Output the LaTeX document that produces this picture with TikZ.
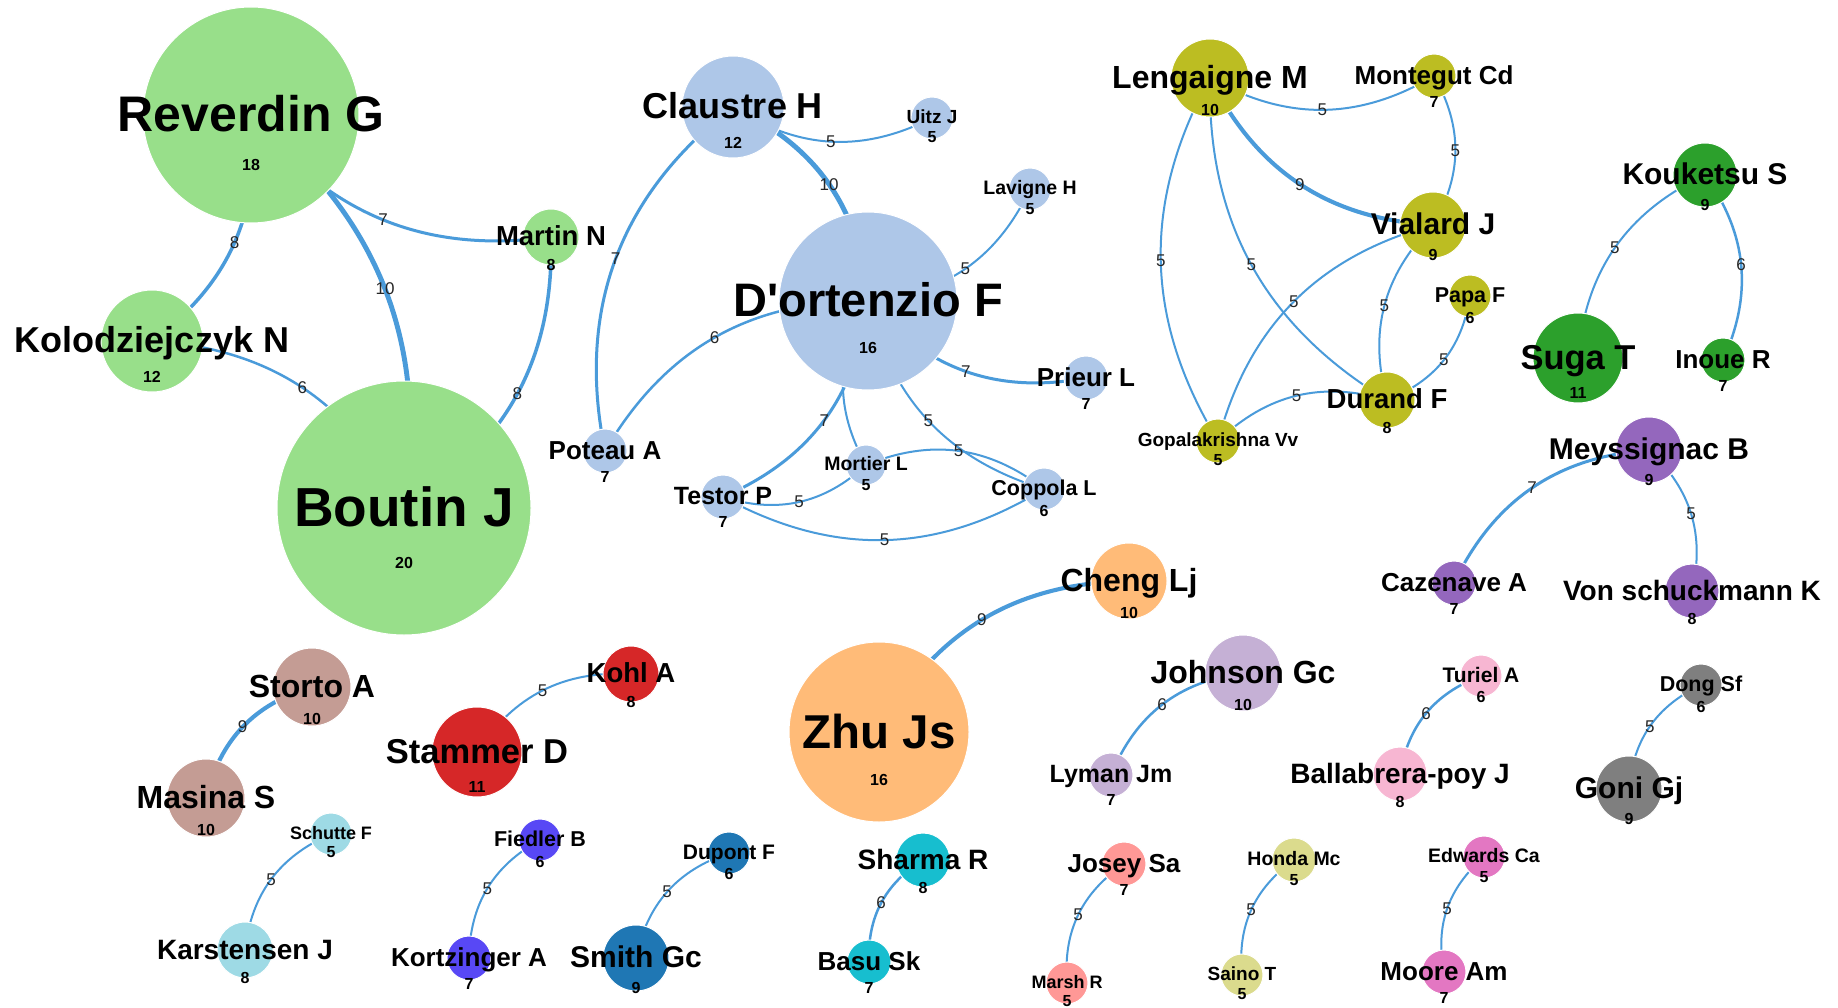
\documentclass[tikz,border=0pt]{standalone}
\usepackage{fontspec}
\newfontfamily\labfont{Liberation Sans}
\pgfdeclarelayer{bg}
\pgfdeclarelayer{edges}
\pgfdeclarelayer{front}
\pgfsetlayers{bg,edges,main,front}

% cluster colours
\definecolor{cA}{HTML}{98DF8A}
\definecolor{cB}{HTML}{AEC7E8}
\definecolor{cC}{HTML}{BCBD22}
\definecolor{cD}{HTML}{2CA02C}
\definecolor{cE}{HTML}{9467BD}
\definecolor{cF}{HTML}{FFBB78}
\definecolor{cG}{HTML}{C5B0D5}
\definecolor{cH}{HTML}{F7B6D2}
\definecolor{cI}{HTML}{7F7F7F}
\definecolor{cJ}{HTML}{C49C94}
\definecolor{cK}{HTML}{D62728}
\definecolor{cL}{HTML}{9EDAE5}
\definecolor{cM}{RGB}{88,72,245}
\definecolor{cN}{HTML}{1F77B4}
\definecolor{cO}{HTML}{17BECF}
\definecolor{cP}{HTML}{FF9896}
\definecolor{cQ}{HTML}{DBDB8D}
\definecolor{cR}{HTML}{E377C2}
\definecolor{linkblue}{RGB}{74,155,218}

\tikzset{
  pdot/.style={circle, inner sep=0pt, draw=white, line width=1pt},
  pname/.style={anchor=base, inner sep=0pt, text=black},
  pnum/.style={anchor=base, inner sep=0pt, text=black,
    font=\labfont\bfseries\fontsize{16}{16}\selectfont},
  edge/.style={draw=linkblue},
  elab/.style={midway, inner sep=0pt, text=black!85,
    font=\labfont\fontsize{17}{17}\selectfont},
  w5/.style={line width=2.0pt},
  w6/.style={line width=2.5pt},
  w7/.style={line width=3.0pt},
  w8/.style={line width=3.5pt},
  w9/.style={line width=4.1pt},
  w10/.style={line width=4.9pt},
}

% \pers{id}{x}{y}{radius}{colour}{font size}{name}{count}
\newcommand\pers[8]{%
  \node[pdot, fill=#5, minimum size={2*#4}] (#1) at (#2,-#3) {};
  \begin{pgfonlayer}{front}
    \node[pname, font=\labfont\bfseries\fontsize{#6}{#6}\selectfont]
      (#1-n) at ([yshift={(1-0.358*#6)*1pt}]#1.center) {#7};
    \node[pnum] (#1-w) at ([yshift={(-#6-5.7)*1pt}]#1.center) {#8};
  \end{pgfonlayer}}

\begin{document}
\begin{tikzpicture}[x=1pt,y=1pt]
\begin{pgfonlayer}{bg}
\fill[white] (0,0) rectangle (1838,-1008);
\end{pgfonlayer}
\useasboundingbox (0,0) rectangle (1838,-1008);

% --- people ---
\pers{reverdin}{251}{115}{108}{cA}{50}{Reverdin G}{18}
\pers{kolod}{152}{341}{51}{cA}{36}{Kolodziejczyk N}{12}
\pers{martin}{551}{237}{28}{cA}{27.5}{Martin N}{8}
\pers{boutin}{404}{508}{127}{cA}{55}{Boutin J}{20}

\pers{claustre}{733}{107}{51}{cB}{36}{Claustre H}{12}
\pers{uitz}{932}{118}{21}{cB}{19}{Uitz J}{5}
\pers{lavigne}{1030}{189}{21}{cB}{19.5}{Lavigne H}{5}
\pers{dortenzio}{868}{301}{89}{cB}{47}{D'ortenzio F}{16}
\pers{prieur}{1086}{378}{22}{cB}{26}{Prieur L}{7}
\pers{poteau}{605}{451}{22}{cB}{26}{Poteau A}{7}
\pers{testor}{723}{497}{22}{cB}{25}{Testor P}{7}
\pers{mortier}{866}{465}{20}{cB}{19.5}{Mortier L}{5}
\pers{coppola}{1044}{489}{21}{cB}{21.5}{Coppola L}{6}

\pers{lengaigne}{1210}{78}{39}{cC}{32}{Lengaigne M}{10}
\pers{montegut}{1434}{76}{22}{cC}{26}{Montegut Cd}{7}
\pers{vialard}{1433}{225}{33}{cC}{30}{Vialard J}{9}
\pers{papa}{1470}{296}{21}{cC}{21.5}{Papa F}{6}
\pers{durand}{1387}{400}{28}{cC}{27.5}{Durand F}{8}
\pers{gopal}{1218}{441}{22}{cC}{19}{Gopalakrishna Vv}{5}

\pers{kouketsu}{1705}{175}{32}{cD}{30}{Kouketsu S}{9}
\pers{suga}{1578}{358}{45}{cD}{34.5}{Suga T}{11}
\pers{inoue}{1723}{360}{22}{cD}{26}{Inoue R}{7}

\pers{meyss}{1649}{450}{33}{cE}{30}{Meyssignac B}{9}
\pers{cazenave}{1454}{583}{22}{cE}{26}{Cazenave A}{7}
\pers{vonsch}{1692}{591}{27}{cE}{28}{Von schuckmann K}{8}

\pers{cheng}{1129}{581}{38}{cF}{32}{Cheng Lj}{10}
\pers{zhu}{879}{732}{90}{cF}{47.5}{Zhu Js}{16}

\pers{johnson}{1243}{673}{38}{cG}{32}{Johnson Gc}{10}
\pers{lyman}{1111}{775}{22}{cG}{25}{Lyman Jm}{7}

\pers{turiel}{1481}{676}{21}{cH}{21}{Turiel A}{6}
\pers{ballab}{1400}{774}{27}{cH}{28}{Ballabrera-poy J}{8}

\pers{dong}{1701}{685}{21}{cI}{21.5}{Dong Sf}{6}
\pers{goni}{1629}{789}{33}{cI}{30}{Goni Gj}{9}

\pers{storto}{312}{687}{39}{cJ}{32}{Storto A}{10}
\pers{masina}{206}{798}{39}{cJ}{32}{Masina S}{10}

\pers{kohl}{631}{674}{28}{cK}{27.5}{Kohl A}{8}
\pers{stammer}{477}{752}{45}{cK}{34.5}{Stammer D}{11}

\pers{schutte}{331}{834}{21}{cL}{18}{Schutte F}{5}
\pers{karst}{245}{950}{28}{cL}{28}{Karstensen J}{8}

\pers{fiedler}{540}{840}{21}{cM}{21.5}{Fiedler B}{6}
\pers{kortz}{469}{958}{22}{cM}{26}{Kortzinger A}{7}

\pers{dupont}{729}{853}{21}{cN}{21}{Dupont F}{6}
\pers{smith}{636}{958}{33}{cN}{30}{Smith Gc}{9}

\pers{sharma}{923}{860}{27}{cO}{28}{Sharma R}{8}
\pers{basu}{869}{962}{22}{cO}{26}{Basu Sk}{7}

\pers{josey}{1124}{864}{22}{cP}{26}{Josey Sa}{7}
\pers{marsh}{1067}{983}{21}{cP}{18}{Marsh R}{5}

\pers{honda}{1294}{860}{22}{cQ}{19.5}{Honda Mc}{5}
\pers{saino}{1242}{975}{21}{cQ}{19}{Saino T}{5}

\pers{edwards}{1484}{857}{21}{cR}{19.5}{Edwards Ca}{5}
\pers{moore}{1444}{972}{22}{cR}{26}{Moore Am}{7}

% --- co-authorship links ---
\begin{pgfonlayer}{edges}
\draw[edge,w8]  (reverdin.center) to[bend left=30]  node[elab]{8}  (kolod.center);
\draw[edge,w10] (reverdin.center) to[bend left=30]  node[elab]{10} (boutin.center);
\draw[edge,w7]  (reverdin.center) to[bend right=30] node[elab]{7}  (martin.center);
\draw[edge,w6]  (kolod.center)    to[bend left=30]  node[elab]{6}  (boutin.center);
\draw[edge,w8]  (martin.center)   to[bend left=30]  node[elab]{8}  (boutin.center);

\draw[edge,w5]  (claustre.center) to[bend right=30] node[elab]{5}  (uitz.center);
\draw[edge,w10] (claustre.center) to[bend left=30]  node[elab]{10} (dortenzio.center);
\draw[edge,w7]  (claustre.center) to[bend right=32] node[elab]{7}  (poteau.center);
\draw[edge,w5]  (dortenzio.center) to[bend right=30] node[elab]{5} (lavigne.center);
\draw[edge,w6]  (dortenzio.center) to[bend right=30] node[elab]{6} (poteau.center);
\draw[edge,w7]  (dortenzio.center) to[bend right=30] node[elab]{7} (prieur.center);
\draw[edge,w7]  (dortenzio.center) to[bend left=30]  node[elab]{7} (testor.center);
\draw[edge,w5]  (dortenzio.center) to[bend right=30] (mortier.center);
\draw[edge,w5]  (dortenzio.center) to[bend right=30] node[elab]{5} (coppola.center);
\draw[edge,w5]  (mortier.center)  to[bend left=30]  node[elab]{5}  (coppola.center);
\draw[edge,w5]  (testor.center)   to[bend right=30] node[elab]{5}  (mortier.center);
\draw[edge,w5]  (testor.center)   to[bend right=30] node[elab]{5}  (coppola.center);

\draw[edge,w5]  (lengaigne.center) to[bend right=30] node[elab]{5} (montegut.center);
\draw[edge,w5]  (montegut.center)  to[bend left=30]  node[elab]{5} (vialard.center);
\draw[edge,w9]  (lengaigne.center) to[bend right=30] node[elab]{9} (vialard.center);
\draw[edge,w5]  (lengaigne.center) to[bend right=30] node[elab]{5} (gopal.center);
\draw[edge,w5]  (lengaigne.center) to[bend right=30] node[elab]{5} (durand.center);
\draw[edge,w5]  (vialard.center)   to[bend right=30] node[elab]{5} (gopal.center);
\draw[edge,w5]  (vialard.center)   to[bend right=30] node[elab]{5} (durand.center);
\draw[edge,w5]  (papa.center)      to[bend left=30]  node[elab]{5} (durand.center);
\draw[edge,w5]  (gopal.center)     to[bend left=30]  node[elab]{5} (durand.center);

\draw[edge,w5]  (kouketsu.center) to[bend right=30] node[elab]{5} (suga.center);
\draw[edge,w6]  (kouketsu.center) to[bend left=30]  node[elab]{6} (inoue.center);

\draw[edge,w7]  (meyss.center) to[bend right=30] node[elab]{7} (cazenave.center);
\draw[edge,w5]  (meyss.center) to[bend left=30]  node[elab]{5} (vonsch.center);

\draw[edge,w9]  (zhu.center)     to[bend left=30]  node[elab]{9} (cheng.center);
\draw[edge,w6]  (johnson.center) to[bend right=30] node[elab]{6} (lyman.center);
\draw[edge,w6]  (turiel.center)  to[bend right=30] node[elab]{6} (ballab.center);
\draw[edge,w5]  (dong.center)    to[bend right=30] node[elab]{5} (goni.center);
\draw[edge,w9]  (storto.center)  to[bend right=30] node[elab]{9} (masina.center);
\draw[edge,w5]  (stammer.center) to[bend left=30]  node[elab]{5} (kohl.center);
\draw[edge,w5]  (schutte.center) to[bend right=30] node[elab]{5} (karst.center);
\draw[edge,w5]  (fiedler.center) to[bend right=30] node[elab]{5} (kortz.center);
\draw[edge,w5]  (dupont.center)  to[bend right=30] node[elab]{5} (smith.center);
\draw[edge,w6]  (sharma.center)  to[bend right=30] node[elab]{6} (basu.center);
\draw[edge,w5]  (josey.center)   to[bend right=30] node[elab]{5} (marsh.center);
\draw[edge,w5]  (honda.center)   to[bend right=30] node[elab]{5} (saino.center);
\draw[edge,w5]  (edwards.center) to[bend right=30] node[elab]{5} (moore.center);
\end{pgfonlayer}
\end{tikzpicture}
\end{document}
